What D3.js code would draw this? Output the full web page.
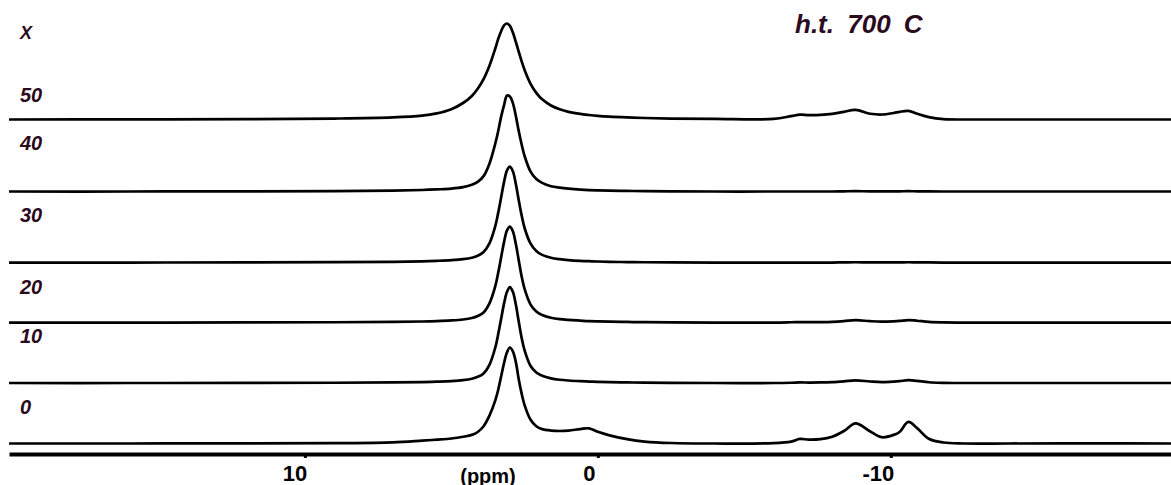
<!DOCTYPE html>
<html>
<head>
<meta charset="utf-8">
<script src="https://cdn.jsdelivr.net/npm/d3@7"></script>
<style>
  html, body { margin: 0; padding: 0; background: #ffffff; }
  svg { display: block; }
</style>
</head>
<body>
<svg id="chart" width="1171" height="485"></svg>
<script>
// Chemical shift grid (ppm, high to low) shared by every trace
const ppm = [20.1, 16, 12, 9, 7, 6, 5.5, 5, 4.6, 4.3, 4.1, 3.9, 3.7, 3.5, 3.4, 3.3, 3.2, 3.1, 3.0, 2.9,
             2.8, 2.7, 2.6, 2.5, 2.3, 2.1, 1.9, 1.6, 1.3, 1.0, 0.6, 0.3, 0, -0.4, -1, -1.6, -2.5, -4, -6, -6.6,
             -6.9, -7.2, -7.6, -8, -8.4, -8.8, -9.3, -9.7, -10.1, -10.3, -10.6, -10.9, -11.3, -11.8, -12.5, -14, -17, -19.6];

// Normalised intensities, one array per trace
const s0  = [0, 0, 0.002, 0.004, 0.012, 0.03, 0.04, 0.052, 0.07, 0.09, 0.12, 0.18, 0.29, 0.45, 0.56, 0.70, 0.84, 0.95, 1.0, 0.96,
             0.85, 0.67, 0.52, 0.40, 0.25, 0.18, 0.15, 0.135, 0.13, 0.135, 0.15, 0.158, 0.122, 0.085, 0.045, 0.02, 0.005, 0, 0.004, 0.02,
             0.048, 0.04, 0.045, 0.07, 0.13, 0.21, 0.125, 0.065, 0.09, 0.12, 0.225, 0.16, 0.05, 0.01, 0, 0, 0.002, 0];
const s10 = [0, 0, 0.001, 0.003, 0.006, 0.01, 0.014, 0.02, 0.03, 0.045, 0.065, 0.10, 0.19, 0.37, 0.51, 0.67, 0.83, 0.95, 1.0, 0.95,
             0.82, 0.64, 0.47, 0.34, 0.18, 0.11, 0.075, 0.048, 0.034, 0.026, 0.019, 0.015, 0.012, 0.009, 0.006, 0.004, 0.002, 0, 0, 0.003,
             0.006, 0.005, 0.006, 0.01, 0.018, 0.028, 0.016, 0.01, 0.015, 0.02, 0.03, 0.022, 0.008, 0.002, 0, 0, 0, 0];
const s20 = [0, 0, 0.001, 0.003, 0.007, 0.011, 0.015, 0.022, 0.032, 0.047, 0.068, 0.105, 0.20, 0.38, 0.52, 0.68, 0.84, 0.96, 1.0, 0.95,
             0.82, 0.65, 0.48, 0.35, 0.19, 0.115, 0.078, 0.05, 0.035, 0.027, 0.02, 0.015, 0.012, 0.009, 0.006, 0.004, 0.002, 0, 0, 0.003,
             0.005, 0.004, 0.005, 0.008, 0.015, 0.025, 0.014, 0.009, 0.013, 0.017, 0.026, 0.019, 0.007, 0.002, 0, 0, 0, 0];
const s30 = [0, 0, 0.002, 0.004, 0.008, 0.013, 0.018, 0.025, 0.035, 0.05, 0.07, 0.11, 0.20, 0.38, 0.52, 0.68, 0.84, 0.96, 1.0, 0.95,
             0.82, 0.65, 0.49, 0.36, 0.20, 0.12, 0.08, 0.05, 0.035, 0.026, 0.018, 0.014, 0.011, 0.008, 0.005, 0.003, 0.002, 0, 0, 0,
             0, 0, 0, 0, 0.002, 0.003, 0.002, 0.001, 0.002, 0.002, 0.003, 0.002, 0.001, 0, 0, 0, 0, 0];
const s40 = [0, 0, 0.002, 0.005, 0.01, 0.016, 0.022, 0.03, 0.045, 0.07, 0.10, 0.16, 0.29, 0.50, 0.63, 0.78, 0.90, 1.0, 0.99, 0.92,
             0.79, 0.63, 0.49, 0.37, 0.21, 0.13, 0.09, 0.055, 0.04, 0.03, 0.02, 0.015, 0.012, 0.009, 0.006, 0.004, 0.002, 0, 0, 0,
             0, 0, 0, 0, 0.002, 0.003, 0.002, 0.001, 0.002, 0.002, 0.003, 0.002, 0.001, 0, 0, 0, 0, 0];
const s50 = [0, 0.002, 0.004, 0.01, 0.022, 0.04, 0.064, 0.108, 0.172, 0.245, 0.32, 0.42, 0.56, 0.74, 0.84, 0.92, 0.98, 1.0, 0.975, 0.906,
             0.81, 0.706, 0.606, 0.516, 0.375, 0.278, 0.21, 0.146, 0.106, 0.08, 0.058, 0.047, 0.038, 0.03, 0.022, 0.016, 0.01, 0.006, 0.006, 0.035,
             0.05, 0.046, 0.048, 0.058, 0.08, 0.10, 0.06, 0.052, 0.068, 0.08, 0.09, 0.06, 0.025, 0.004, 0, 0, 0, 0];

// Trace names and their vertical stacking offsets (intensity units)
const traceNames = ["0", "10", "20", "30", "40", "50"];
const traceOffsets = [0, 0.63, 1.26, 1.885, 2.625, 3.375];
const traceValues = [s0, s10, s20, s30, s40, s50];

// Axis ticks
const tickValues = [10, 0, -10];
const tickLabels = ["10", "0", "-10"];
const axisTitle = "(ppm)";
const headerLabel = "X";
const title = "h.t. 700 C";

// ---- layout ----
const axisY = 454;
const labelColor = "#2b0a1e";
const fontFamily = "'Liberation Sans', Arial, Helvetica, sans-serif";
// label baselines, in the same stacked intensity units as the traces
const labelLevels = [0.307, 1.047, 1.557, 2.307, 3.057, 3.557];
const headerLevel = 4.214;
// horizontal nudge of each tick label relative to its tick
const tickLabelShift = [-10.5, -9, -13];

const svg = d3.select("#chart");

const x = d3.scaleLinear().domain([20.1, -19.6]).range([9, 1172]);
const y = d3.scaleLinear().domain([0, 4.62]).range([443.5, 0]);

const line = d3.line()
  .x(d => x(d.ppm))
  .y(d => y(d.v))
  .curve(d3.curveCatmullRom.alpha(0.5));

const traces = traceValues.map((vals, i) =>
  ppm.map((p, j) => ({ ppm: p, v: vals[j] + traceOffsets[i] })));

svg.append("g")
  .selectAll("path")
  .data(traces)
  .join("path")
  .attr("d", line)
  .attr("fill", "none")
  .attr("stroke", "#000")
  .attr("stroke-width", 2.7)
  .attr("stroke-linejoin", "round");

// Series labels on the left
svg.append("g")
  .selectAll("text")
  .data(traceNames)
  .join("text")
  .attr("x", 20)
  .attr("y", (d, i) => y(labelLevels[i]))
  .attr("fill", labelColor)
  .attr("font-family", fontFamily)
  .attr("font-size", 20)
  .attr("font-weight", "bold")
  .attr("font-style", "italic")
  .text(d => d);

svg.append("text")
  .attr("x", 20)
  .attr("y", y(headerLevel))
  .attr("fill", labelColor)
  .attr("font-family", fontFamily)
  .attr("font-size", 18)
  .attr("font-weight", "bold")
  .attr("font-style", "italic")
  .text(headerLabel);

// Title
svg.append("text")
  .attr("x", 795)
  .attr("y", 33)
  .attr("fill", labelColor)
  .attr("font-family", fontFamily)
  .attr("font-size", 26)
  .attr("font-weight", "bold")
  .attr("font-style", "italic")
  .attr("word-spacing", 6)
  .text(title);

// Chemical shift axis
const axis = d3.axisBottom(x)
  .tickValues(tickValues)
  .tickFormat((d, i) => tickLabels[i])
  .tickSizeInner(4)
  .tickSizeOuter(0);

const gAxis = svg.append("g")
  .attr("transform", `translate(0,${axisY})`)
  .call(axis);

gAxis.select(".domain")
  .attr("stroke", "#000")
  .attr("stroke-width", 4);
gAxis.selectAll(".tick line")
  .attr("stroke", "#000")
  .attr("stroke-width", 3);
gAxis.selectAll(".tick text")
  .attr("y", 27)
  .attr("dy", 0)
  .attr("dx", (d, i) => tickLabelShift[i])
  .attr("fill", "#000")
  .attr("font-family", fontFamily)
  .attr("font-size", 22)
  .attr("font-weight", "bold");

svg.append("text")
  .attr("x", 488)
  .attr("y", 483)
  .attr("text-anchor", "middle")
  .attr("fill", "#000")
  .attr("font-family", fontFamily)
  .attr("font-size", 20)
  .attr("font-weight", "bold")
  .text(axisTitle);
</script>
</body>
</html>
